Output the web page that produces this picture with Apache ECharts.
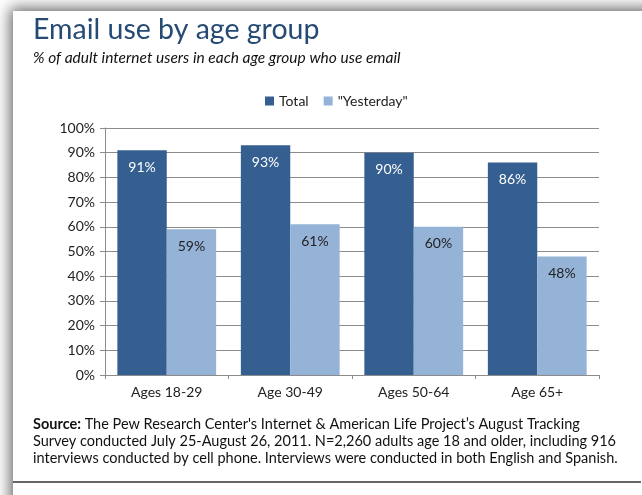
<!DOCTYPE html>
<html>
<head>
<meta charset="utf-8">
<script src="https://cdn.jsdelivr.net/npm/echarts@6/dist/echarts.min.js"></script>
<style>
  html, body { margin: 0; padding: 0; background: #ffffff; width: 642px; height: 495px; overflow: hidden; }
  #card { position: absolute; left: 13px; top: 11px; width: 660px; height: 520px; background: #fff; box-shadow: 0 0 14px 3px rgba(0,0,0,0.6); }
  #chart { position: absolute; left: 0; top: 0; width: 642px; height: 495px; }
</style>
</head>
<body>
<div id="card"></div>
<div id="chart"></div>
<script>
const categories = ['Ages 18-29', 'Age 30-49', 'Ages 50-64', 'Age 65+'];
const totalValues = [91, 93, 90, 86];
const yesterdayValues = [59, 61, 60, 48];
const seriesNames = ['Total', '"Yesterday"'];
const titleText = 'Email use by age group';
const subtitleText = '% of adult internet users in each age group who use email';
const sourceLines = [
  "The Pew Research Center's Internet & American Life Project\u2019s August Tracking",
  "Survey conducted July 25-August 26, 2011. N=2,260 adults age 18 and older, including 916",
  "interviews conducted by cell phone. Interviews were conducted in both English and Spanish."
];

const FONT = 'Lato, "Open Sans", sans-serif';
const chart = echarts.init(document.getElementById('chart'), null, { renderer: 'canvas' });

const option = {
  backgroundColor: 'transparent',
  animation: false,
  textStyle: { fontFamily: FONT },
  legend: {
    data: seriesNames,
    left: 260,
    top: 89,
    itemWidth: 9,
    itemHeight: 9,
    itemGap: 15,
    icon: 'rect',
    textStyle: { fontFamily: FONT, fontSize: 14, color: '#222' }
  },
  grid: { left: 105, right: 43, top: 128, bottom: 120, containLabel: false },
  xAxis: {
    type: 'category',
    data: categories,
    axisLine: { lineStyle: { color: '#8c8c8c', width: 1 } },
    axisTick: { show: true, length: 4, lineStyle: { color: '#8c8c8c' } },
    axisLabel: { margin: 10, fontFamily: FONT, fontSize: 14, color: '#222' }
  },
  yAxis: {
    type: 'value',
    min: 0, max: 100, interval: 10,
    axisLine: { show: true, lineStyle: { color: '#8c8c8c', width: 1 } },
    axisTick: { show: true, length: 5, lineStyle: { color: '#8c8c8c' } },
    splitLine: { show: true, lineStyle: { color: '#8c8c8c', width: 1 } },
    axisLabel: { margin: 10, formatter: '{value}%', fontFamily: FONT, fontSize: 14, color: '#222' }
  },
  series: [
    {
      name: seriesNames[0],
      type: 'bar',
      data: totalValues,
      barGap: '0%',
      barCategoryGap: '20%',
      itemStyle: { color: '#365F91' },
      label: { show: true, position: 'insideTop', distance: 10, formatter: '{c}%', color: '#ffffff', fontFamily: FONT, fontSize: 14 }
    },
    {
      name: seriesNames[1],
      type: 'bar',
      data: yesterdayValues,
      itemStyle: { color: '#95B3D7' },
      label: { show: true, position: 'insideTop', distance: 10, formatter: '{c}%', color: '#222222', fontFamily: FONT, fontSize: 14 }
    }
  ],
  graphic: [
    { type: 'text', x: 33, y: 30, style: { text: titleText, font: '28.5px ' + FONT, fill: '#254A73', verticalAlign: 'middle' } },
    { type: 'text', x: 33, y: 58, style: { text: subtitleText, font: 'italic 15.5px ' + FONT, fill: '#111', verticalAlign: 'middle' } },
    { type: 'text', x: 33, y: 424, style: { text: '{b|Source:} ' + sourceLines[0], rich: { b: { fontWeight: 'bold', fontFamily: FONT, fontSize: 14.5, fill: '#111' } }, font: '14.5px ' + FONT, fill: '#111', verticalAlign: 'middle' } },
    { type: 'text', x: 33, y: 441, style: { text: sourceLines[1], font: '14.5px ' + FONT, fill: '#111', verticalAlign: 'middle' } },
    { type: 'text', x: 33, y: 458, style: { text: sourceLines[2], font: '14.5px ' + FONT, fill: '#111', verticalAlign: 'middle' } },
    { type: 'line', shape: { x1: 13, y1: 482, x2: 641, y2: 482 }, style: { stroke: '#333', lineWidth: 1.5 } }
  ]
};
chart.setOption(option);
</script>
</body>
</html>
